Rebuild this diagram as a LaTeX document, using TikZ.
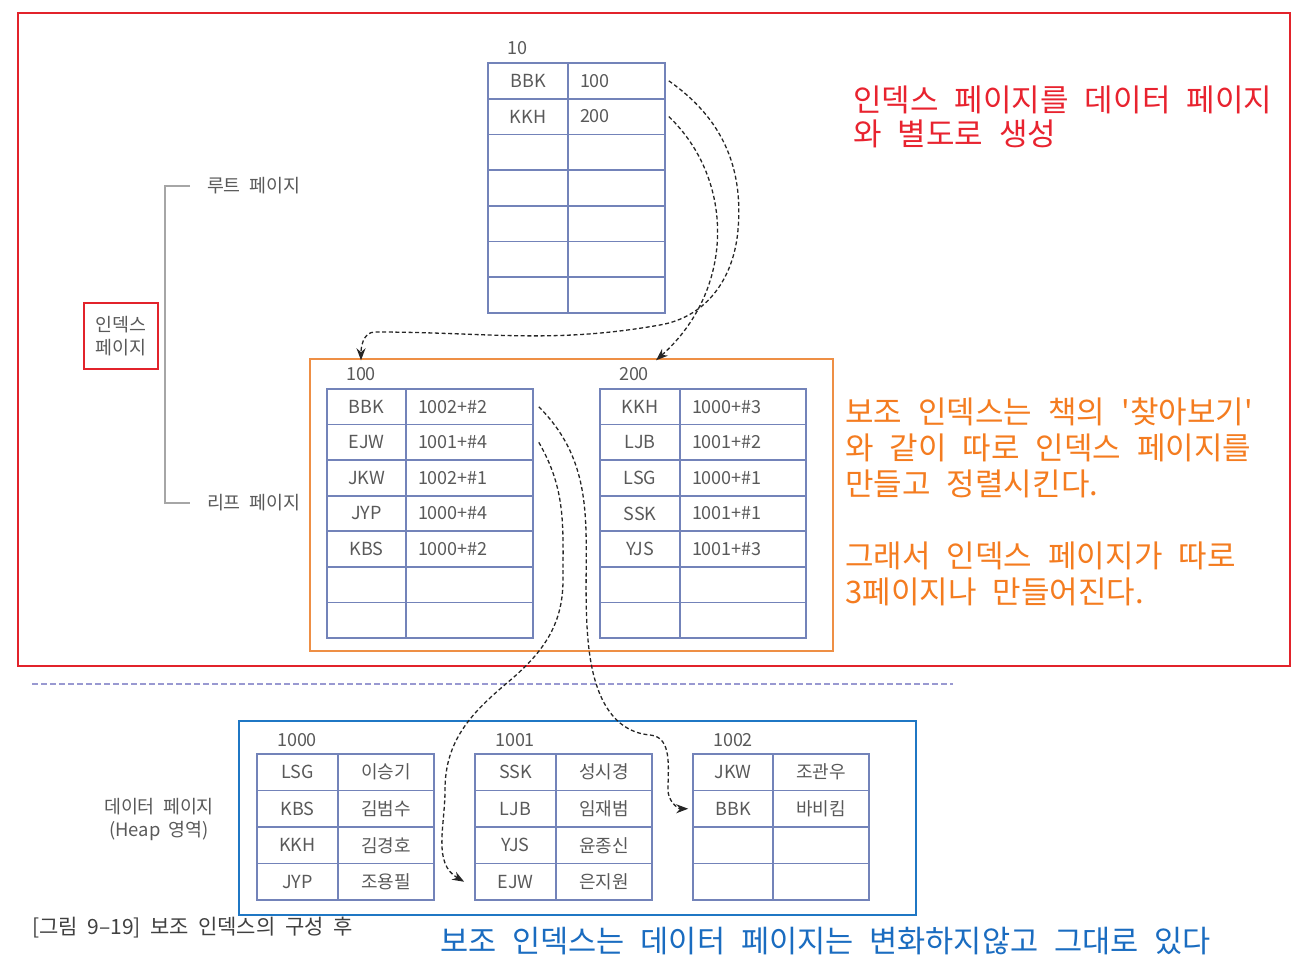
\documentclass[tikz,border=0pt]{standalone}
\usepackage{fontspec}
\setmainfont[WordSpace=2.0]{Noto Sans CJK KR}
\newfontfamily\notefont[WordSpace=2.3]{Noto Sans CJK KR}
\usepackage{xcolor}
\usetikzlibrary{arrows.meta, positioning, calc}

\definecolor{tableline}{HTML}{7383B9}
\definecolor{celltext}{HTML}{595959}
\definecolor{framered}{HTML}{E2232B}
\definecolor{frameorange}{HTML}{EE8F45}
\definecolor{frameblue}{HTML}{1F77C4}
\definecolor{notered}{HTML}{E8232F}
\definecolor{noteorange}{HTML}{F47C20}
\definecolor{noteblue}{HTML}{1A6CC0}

\begin{document}
\begin{tikzpicture}[
    x=0.5pt, y=-0.5pt,
    >={Stealth[length=6pt,width=4.5pt]},
    cell/.style={rectangle,draw=tableline,line width=0.8pt,inner sep=0pt,font=\fontsize{9}{11}\selectfont,text=celltext},
    idxkey/.style={cell,minimum width=#1,minimum height=17.8pt},
    idxval/.style={cell,minimum height=17.8pt,text width=#1,align=left,inner xsep=6pt},
    datacell/.style={cell,minimum width=#1,minimum height=18.25pt},
    pagenum/.style={font=\fontsize{9}{11}\selectfont,text=celltext},
    side/.style={font=\fontsize{9.2}{11.5}\selectfont,text=celltext,align=center},
    link/.style={->,line width=0.65pt,dash pattern=on 2pt off 1.3pt,black!85},
    note/.style={align=left,anchor=west,inner sep=0pt},
]
\useasboundingbox (0,0) rectangle (1308,978);

%--------------------------------------------------------------------
% Frames
%--------------------------------------------------------------------
\draw[framered,line width=1pt] (18,13) rectangle (1290,666);
\draw[frameorange,line width=1.2pt] (310,359) rectangle (833,651);
\draw[frameblue,line width=1.2pt] (239,721) rectangle (916,915);
\draw[black!45!blue!40,line width=0.9pt,dash pattern=on 3pt off 1.5pt] (32,684) -- (953,684);

%--------------------------------------------------------------------
% Root page 10
%--------------------------------------------------------------------
\node[pagenum] (lbl10) at (517,48) {10};
\foreach \k/\v [count=\i] in {BBK/100,KKH/200} {
  \node[idxkey=40pt]   (p10k\i) at (528,{63+35.7*(\i-0.5)}) {\k};
  \node[idxval=36.5pt] (p10v\i) at (616.5,{63+35.7*(\i-0.5)}) {\v};
}
\foreach \i in {3,...,7} {
  \node[idxkey=40pt]   (p10k\i) at (528,{63+35.7*(\i-0.5)}) {};
  \node[idxval=36.5pt] (p10v\i) at (616.5,{63+35.7*(\i-0.5)}) {};
}

%--------------------------------------------------------------------
% Leaf pages 100 and 200
%--------------------------------------------------------------------
\node[pagenum] (lbl100) at (361,374) {100};
\foreach \k/\v [count=\i] in {BBK/1002+\#2,EJW/1001+\#4,JKW/1002+\#1,JYP/1000+\#4,KBS/1000+\#2} {
  \node[idxkey=39.5pt] (p100k\i) at (366.5,{389+35.57*(\i-0.5)}) {\k};
  \node[idxval=51.5pt] (p100v\i) at (469.5,{389+35.57*(\i-0.5)}) {\v};
}
\foreach \i in {6,7} {
  \node[idxkey=39.5pt] (p100k\i) at (366.5,{389+35.57*(\i-0.5)}) {};
  \node[idxval=51.5pt] (p100v\i) at (469.5,{389+35.57*(\i-0.5)}) {};
}

\node[pagenum] (lbl200) at (634,374) {200};
\foreach \k/\v [count=\i] in {KKH/1000+\#3,LJB/1001+\#2,LSG/1000+\#1,SSK/1001+\#1,YJS/1001+\#3} {
  \node[idxkey=40pt] (p200k\i) at (640,{389+35.57*(\i-0.5)}) {\k};
  \node[idxval=51pt] (p200v\i) at (743,{389+35.57*(\i-0.5)}) {\v};
}
\foreach \i in {6,7} {
  \node[idxkey=40pt] (p200k\i) at (640,{389+35.57*(\i-0.5)}) {};
  \node[idxval=51pt] (p200v\i) at (743,{389+35.57*(\i-0.5)}) {};
}

%--------------------------------------------------------------------
% Data pages 1000, 1001, 1002
%--------------------------------------------------------------------
\node[pagenum] (lbl1000) at (297,740) {1000};
\foreach \k/\v [count=\i] in {LSG/이승기,KBS/김범수,KKH/김경호,JYP/조용필} {
  \node[datacell=40.5pt] (p1000k\i) at (297.5,{754+36.5*(\i-0.5)}) {\k};
  \node[datacell=48pt]   (p1000v\i) at (386,{754+36.5*(\i-0.5)}) {\v};
}

\node[pagenum] (lbl1001) at (515,740) {1001};
\foreach \k/\v [count=\i] in {SSK/성시경,LJB/임재범,YJS/윤종신,EJW/은지원} {
  \node[datacell=40.5pt] (p1001k\i) at (515.5,{754+36.5*(\i-0.5)}) {\k};
  \node[datacell=48pt]   (p1001v\i) at (604,{754+36.5*(\i-0.5)}) {\v};
}

\node[pagenum] (lbl1002) at (733,740) {1002};
\foreach \k/\v [count=\i] in {JKW/조관우,BBK/바비킴} {
  \node[datacell=40pt] (p1002k\i) at (733,{754+36.5*(\i-0.5)}) {\k};
  \node[datacell=48pt] (p1002v\i) at (821,{754+36.5*(\i-0.5)}) {\v};
}
\foreach \i in {3,4} {
  \node[datacell=40pt] (p1002k\i) at (733,{754+36.5*(\i-0.5)}) {};
  \node[datacell=48pt] (p1002v\i) at (821,{754+36.5*(\i-0.5)}) {};
}

%--------------------------------------------------------------------
% Side labels
%--------------------------------------------------------------------
\node[side,anchor=west] (rootlbl) at (200,186) {루트 페이지};
\node[side,anchor=west] (leaflbl) at (200,503) {리프 페이지};
\draw[gray!70,line width=0.7pt] ([xshift=-5pt]rootlbl.west) -- ++(-25,0) |- ([xshift=-5pt]leaflbl.west);
\node[side,draw=framered,line width=1pt,minimum width=37pt,minimum height=33pt] (idxlbl) at (121,336) {인덱스\\페이지};
\node[side] (datalbl) at (159,819) {데이터 페이지\\(Heap 영역)};

%--------------------------------------------------------------------
% Pointers
%--------------------------------------------------------------------
\draw[link] ([xshift=1.5pt]p10v1.east) to[out=-35,in=85] (738,230)
    to[out=-95,in=10] (660,325) to[out=190,in=0] (375,332) to[out=180,in=90] (lbl100.north);
\draw[link] ([xshift=1.5pt]p10v2.east) .. controls (735,180) and (735,290) .. (lbl200.north east);
\draw[link] ([xshift=2.5pt]p100v1.east) to[out=-45,in=95] (588,640)
    to[out=-85,in=175] (650,735) to[out=-5,in=90] (668,790) to[out=-90,in=180] ([xshift=-2pt]p1002k2.west);
\draw[link] ([xshift=2.5pt]p100v2.east) to[out=-60,in=90] (563,580)
    to[out=-90,in=40] (507,683) to[out=-140,in=90] (445,790) to[out=-90,in=150] ([xshift=-5pt]p1001k4.west);

%--------------------------------------------------------------------
% Notes and caption
%--------------------------------------------------------------------
\node[note,text=notered,font=\notefont\fontsize{15.5}{17}\selectfont] (notetop) at (853,117)
  {인덱스 페이지를 데이터 페이지\\와 별도로 생성};
\node[note,text=noteorange,font=\notefont\fontsize{15.5}{18}\selectfont] (notemid) at (845,502)
  {보조 인덱스는 책의 \textquotesingle 찾아보기\textquotesingle\\와 같이 따로 인덱스 페이지를\\만들고 정렬시킨다.\\[18pt]그래서 인덱스 페이지가 따로\\3페이지나 만들어진다.};
\node[note,text=noteblue,font=\notefont\fontsize{15.3}{18}\selectfont] (notebot) at (440,941)
  {보조 인덱스는 데이터 페이지는 변화하지않고 그대로 있다};
\node[note,text=black!75,font=\fontsize{10.5}{13}\selectfont] (caption) at (32,928)
  {[그림 9–19] 보조 인덱스의 구성 후};

\end{tikzpicture}
\end{document}
